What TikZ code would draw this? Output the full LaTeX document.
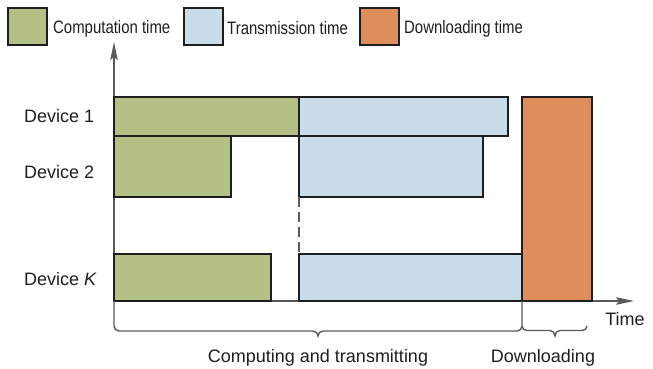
\documentclass[tikz,border=0pt]{standalone}
\usepackage{fontspec}
\setmainfont{Liberation Sans}
\usetikzlibrary{arrows.meta}
\definecolor{cgreen}{RGB}{179,193,135}
\definecolor{cblue}{RGB}{201,220,233}
\definecolor{corange}{RGB}{222,142,90}
\definecolor{cline}{RGB}{30,30,30}
\definecolor{caxis}{RGB}{90,90,90}
\definecolor{ctext}{RGB}{30,30,30}
\tikzset{
  bar/.style={draw=cline, line width=2pt, inner sep=0pt, outer sep=0pt, anchor=north west},
  legbox/.style={draw=cline, line width=2.4pt, inner sep=0pt, anchor=north west, minimum width=39pt, minimum height=37pt},
  lab/.style={text=ctext, font=\fontsize{18}{20}\selectfont, inner sep=0pt},
  leglab/.style={text=ctext, font=\fontsize{18}{20}\selectfont, inner sep=0pt, anchor=west},
  axis/.style={draw=caxis, line width=1.6pt},
  brace/.style={draw=caxis, line width=1.4pt},
  tip/.style={-{Stealth[length=18pt,width=7.5pt,inset=3pt]}}
}
\begin{document}
\begin{tikzpicture}[x=1pt,y=-1pt]
\useasboundingbox (0,0) rectangle (653,368);
% legend
\node[legbox, fill=cgreen] (lg) at (7,7) {};
\node[leglab] (lgt) at (53,28.5) {\scalebox{0.83}[1]{Computation time}};
\node[legbox, fill=cblue] (lb) at (183,7) {};
\node[leglab] (lbt) at (227,28.5) {\scalebox{0.83}[1]{Transmission time}};
\node[legbox, fill=corange] (lo) at (359,7) {};
\node[leglab] (lot) at (404,28.5) {\scalebox{0.83}[1]{Downloading time}};
% axes
\coordinate (O) at (114,301);
\coordinate (ytop) at (114,42);
\coordinate (xend) at (634,301);
\draw[axis, tip] (O) -- (ytop);
\draw[axis, tip] (O) -- (xend);
% bars
\node[bar, fill=cgreen, minimum width=185pt, minimum height=39pt] (g1) at (114,97) {};
\node[bar, fill=cblue, minimum width=209pt, minimum height=39pt] (b1) at (299,97) {};
\node[bar, fill=cgreen, minimum width=117pt, minimum height=61pt] (g2) at (114,136) {};
\node[bar, fill=cblue, minimum width=184pt, minimum height=61pt] (b2) at (299,136) {};
\node[bar, fill=cgreen, minimum width=157pt, minimum height=47pt] (gk) at (114,254) {};
\node[bar, fill=cblue, minimum width=223pt, minimum height=47pt] (bk) at (299,254) {};
\node[bar, fill=corange, minimum width=70pt, minimum height=204pt] (dl) at (522,97) {};
% dashed separator
\draw[draw=caxis, line width=1.6pt, dash pattern=on 10pt off 5pt] (b2.south west) -- (bk.north west);
% device labels
\node[lab, anchor=west] (d1) at (24,115.8) {Device 1};
\node[lab, anchor=west] (d2) at (24,172) {Device 2};
\node[lab, anchor=west] (dk) at (24,279.3) {Device \textit{K}};
% braces
\draw[brace] (O) -- (114,326) to[out=-90,in=180] (119,331) -- (313,331) to[out=0,in=90] (318,336) to[out=90,in=180] (323,331) -- (517,331) to[out=0,in=-90] (522,326) -- (bk.south east);
\draw[brace] (522,326) to[out=-90,in=180] (527,330.5) -- (550,330.5) to[out=0,in=90] (555,336) to[out=90,in=180] (560,330.5) -- (582,330.5) to[out=0,in=-90] (587,326);
% axis/brace labels
\node[lab] (tm) at (625,319) {Time};
\node[lab] (ct) at (318,357.5) {Computing and transmitting};
\node[lab] (dn) at (543,357.5) {Downloading};
\end{tikzpicture}
\end{document}
